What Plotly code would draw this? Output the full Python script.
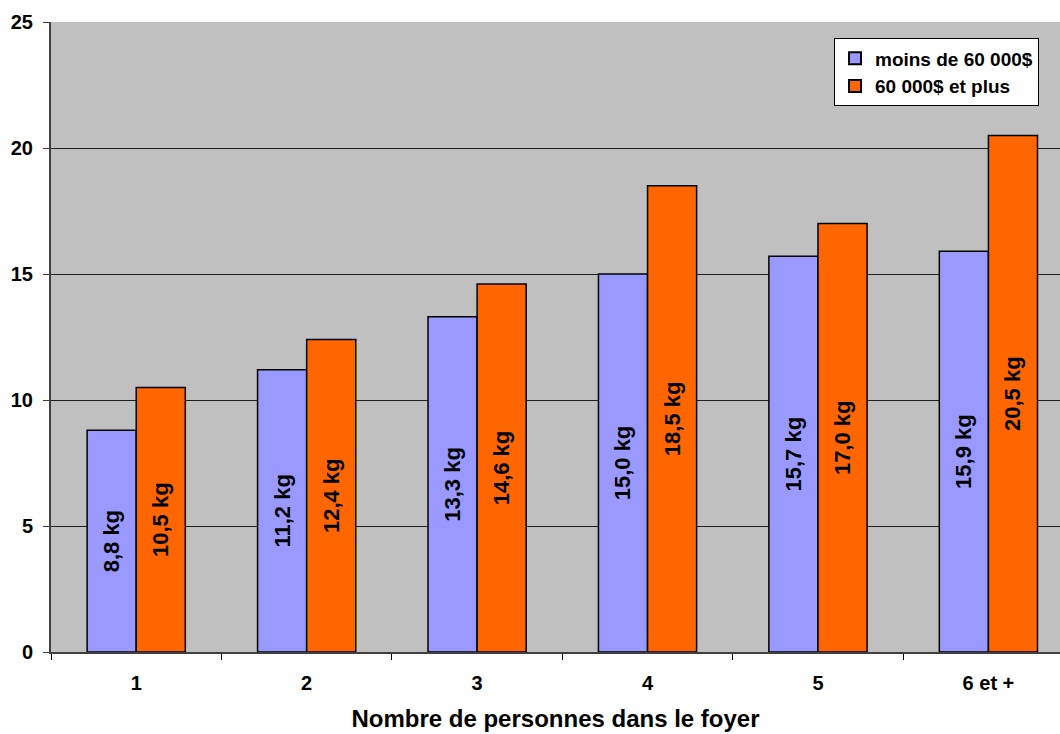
import plotly.graph_objects as go

categories = ["1", "2", "3", "4", "5", "6 et +"]
moins_60k = [8.8, 11.2, 13.3, 15.0, 15.7, 15.9]
plus_60k = [10.5, 12.4, 14.6, 18.5, 17.0, 20.5]
y_ticks = [0, 5, 10, 15, 20, 25]


def kg_label(v):
    return f"{v:.1f}".replace(".", ",") + " kg"


font_family = "Liberation Sans, Arial, sans-serif"
label_font = dict(family=font_family, size=22, color="black")

fig = go.Figure()
fig.add_trace(go.Bar(
    x=categories, y=moins_60k, name="<b>moins de 60 000$</b>",
    marker=dict(color="#9999FF", line=dict(color="black", width=1.5)),
    text=[f"<b>{kg_label(v)}</b>" for v in moins_60k],
    textposition="inside", insidetextanchor="middle", textangle=-90,
    textfont=label_font, cliponaxis=False,
))
fig.add_trace(go.Bar(
    x=categories, y=plus_60k, name="<b>60 000$ et plus</b>",
    marker=dict(color="#FF6600", line=dict(color="black", width=1.5)),
    text=[f"<b>{kg_label(v)}</b>" for v in plus_60k],
    textposition="inside", insidetextanchor="middle", textangle=-90,
    textfont=label_font, cliponaxis=False,
))

fig.update_layout(
    width=1060, height=734,
    margin=dict(l=51, r=0, t=22, b=82),
    paper_bgcolor="white", plot_bgcolor="#C0C0C0",
    barmode="group", bargap=0.424, bargroupgap=0,
    uniformtext=dict(minsize=22, mode="show"),
    font=dict(family=font_family, size=20, color="black"),
    showlegend=True,
    legend=dict(
        x=0.776, y=0.974, xanchor="left", yanchor="top",
        bgcolor="white", bordercolor="black", borderwidth=1,
        font=dict(family=font_family, size=19, color="black"),
        itemsizing="constant", tracegroupgap=0, itemwidth=30,
    ),
    xaxis=dict(
        type="category", range=[-0.5, 5.42],
        tickson="boundaries", ticks="outside", ticklen=6,
        tickcolor="black", tickwidth=1,
        showline=True, linecolor="#404040", linewidth=2,
        showgrid=False,
        tickfont=dict(family=font_family, size=20, color="black"),
        ticklabelstandoff=12,
        title=dict(text="<b>Nombre de personnes dans le foyer</b>",
                   font=dict(family=font_family, size=24, color="black"),
                   standoff=17),
    ),
    yaxis=dict(
        range=[0, 25], tickvals=y_ticks,
        ticktext=[f"<b>{t}</b>" for t in y_ticks],
        ticks="outside", ticklen=6, tickcolor="#404040", tickwidth=1,
        showline=True, linecolor="#404040", linewidth=2,
        showgrid=True, gridcolor="#202020", gridwidth=1,
        zeroline=False,
        tickfont=dict(family=font_family, size=20, color="black"),
        ticklabelstandoff=6,
    ),
)
fig.update_xaxes(ticktext=[f"<b>{c}</b>" for c in categories], tickvals=categories)

fig.write_html("out.html")
